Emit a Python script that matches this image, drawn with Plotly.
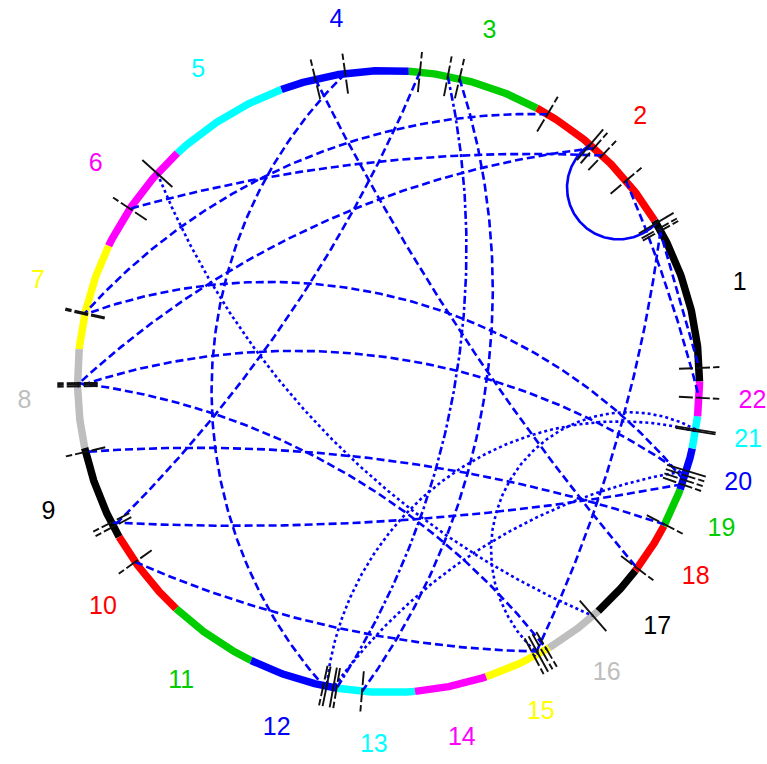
import numpy as np
import plotly.graph_objects as go

# Chromosome layout (hg19 lengths, Mb), drawn counter-clockwise from 3 o'clock
chrom_names = [str(i) for i in range(1, 23)]
chrom_len_mb = [249.25, 243.20, 198.02, 191.15, 180.92, 171.12, 159.14, 146.36,
                141.21, 135.53, 135.01, 133.85, 115.17, 107.35, 102.53, 90.35,
                81.20, 78.08, 59.13, 63.03, 48.13, 51.30]
palette = ["#000000", "#FF0000", "#00CD00", "#0000FF",
           "#00FFFF", "#FF00FF", "#FFFF00", "#BEBEBE"]

# Links between genomic positions (chromosome, Mb)
link_chr_a = [2, 2, 2, 2, 2, 1, 1, 4, 4, 3, 3, 3, 6, 21, 21, 10, 8, 20, 20, 20, 20, 19]
link_pos_a = [225.0, 147.7, 140.0, 123.7, 72.5, 232.0, 236.0, 138.6, 93.8, 139.8,
              122.2, 181.4, 42.0, 28.4, 26.0, 44.0, 50.0, 8.0, 15.0, 22.0, 29.0,
              2.6]
link_chr_b = [7, 1, 8, 6, 22, 15, 1, 18, 12, 12, 13, 9, 16, 15, 12, 15, 15, 9, 7,
              8, 12, 9]
link_pos_b = [105.0, 244.9, 52.5, 108.0, 27.3, 77.0, 20.0, 4.4, 113.0, 133.0,
              37.0, 124.0, 80.0, 84.0, 118.0, 91.0, 98.0, 117.0, 107.0, 55.0,
              128.0, 6.0]

# Line style and bend of each link (bend > 0 bows toward the centre)
link_dash = ["dash", "solid", "dash", "dash", "dash", "dash", "dash", "dash",
             "dash", "dashdot", "dash", "dash", "dot", "dot", "dot", "dash",
             "dash", "dash", "dash", "dash", "dot", "dash"]
link_bend = [-0.11, 0.56, -0.08, -0.04, -0.02, -0.04, 0.0, 0.03, -0.2, -0.1,
             -0.12, 0.05, -0.1, 0.45, 0.23, -0.05, 0.1, -0.03, 0.16, 0.12, 0.1,
             0.05]

dash_px = {"dash": "8px,4px", "dot": "3px,3px", "dashdot": "8px,3px,3px,3px",
           "solid": "solid"}
tick_dash = {"dash": "14px,3px", "dot": "solid", "dashdot": "14px,3px",
             "solid": "solid"}

total = sum(chrom_len_mb)
starts = np.concatenate([[0.0], np.cumsum(chrom_len_mb)[:-1]])


def angle(chrom, pos):
    return 2 * np.pi * (starts[chrom - 1] + pos) / total


def arc_xy(p0, p1, bend, n=160):
    d = p1 - p0
    L = np.hypot(*d)
    m = (p0 + p1) / 2
    nrm = np.array([-d[1], d[0]]) / L
    if np.dot(nrm, -m) < 0:
        nrm = -nrm
    s = bend * L
    if abs(s) < 1e-9:
        t = np.linspace(0, 1, n)
        return p0[0] + d[0] * t, p0[1] + d[1] * t
    apex = m + s * nrm
    t = (s * s - L * L / 4) / (2 * s)
    c = m + t * nrm
    rho = abs(s - t)
    a0 = np.arctan2(*(p0 - c)[::-1])
    a1 = np.arctan2(*(p1 - c)[::-1])
    am = np.arctan2(*(apex - c)[::-1])
    ccw = (a1 - a0) % (2 * np.pi)
    if (am - a0) % (2 * np.pi) < ccw:
        a = np.linspace(a0, a0 + ccw, n)
    else:
        a = np.linspace(a0, a0 - (2 * np.pi - ccw), n)
    return c[0] + rho * np.cos(a), c[1] + rho * np.sin(a)


fig = go.Figure()

# chromosome ring
for i, name in enumerate(chrom_names):
    a = np.linspace(angle(i + 1, 0), angle(i + 1, chrom_len_mb[i]), 80)
    fig.add_trace(go.Scatter(x=np.cos(a), y=np.sin(a), mode="lines",
                             line=dict(color=palette[i % 8], width=7.5),
                             hoverinfo="skip", showlegend=False))

# links
for k in range(len(link_chr_a)):
    ta = angle(link_chr_a[k], link_pos_a[k])
    tb = angle(link_chr_b[k], link_pos_b[k])
    p0 = np.array([np.cos(ta), np.sin(ta)])
    p1 = np.array([np.cos(tb), np.sin(tb)])
    x, y = arc_xy(p0, p1, link_bend[k])
    fig.add_trace(go.Scatter(x=x, y=y, mode="lines",
                             line=dict(color="#0000FF", width=2.6,
                                       dash=dash_px[link_dash[k]]),
                             hoverinfo="skip", showlegend=False))

# radial ticks at link ends
for k in range(len(link_chr_a)):
    for ch, pos in ((link_chr_a[k], link_pos_a[k]), (link_chr_b[k], link_pos_b[k])):
        t = angle(ch, pos)
        r = np.array([0.935, 1.065])
        fig.add_trace(go.Scatter(x=r * np.cos(t), y=r * np.sin(t), mode="lines",
                                 line=dict(color="#111111", width=1.9,
                                           dash=tick_dash[link_dash[k]]),
                                 hoverinfo="skip", showlegend=False))

# chromosome labels
mid = [angle(i + 1, chrom_len_mb[i] / 2) for i in range(22)]
fig.add_trace(go.Scatter(
    x=[1.172 * np.cos(a) for a in mid], y=[1.172 * np.sin(a) for a in mid],
    mode="text", text=chrom_names,
    textfont=dict(family="Liberation Sans, Arial, sans-serif", size=25,
                  color=[palette[i % 8] for i in range(22)]),
    textposition="middle center", hoverinfo="skip", showlegend=False))

fig.update_layout(
    width=767, height=764, margin=dict(l=0, r=0, t=0, b=0),
    paper_bgcolor="white", plot_bgcolor="white",
    xaxis=dict(range=[-1.2492, 1.2170], visible=False, fixedrange=True),
    yaxis=dict(range=[-1.2299, 1.2267], visible=False, fixedrange=True),
)
fig.write_html("out.html")
